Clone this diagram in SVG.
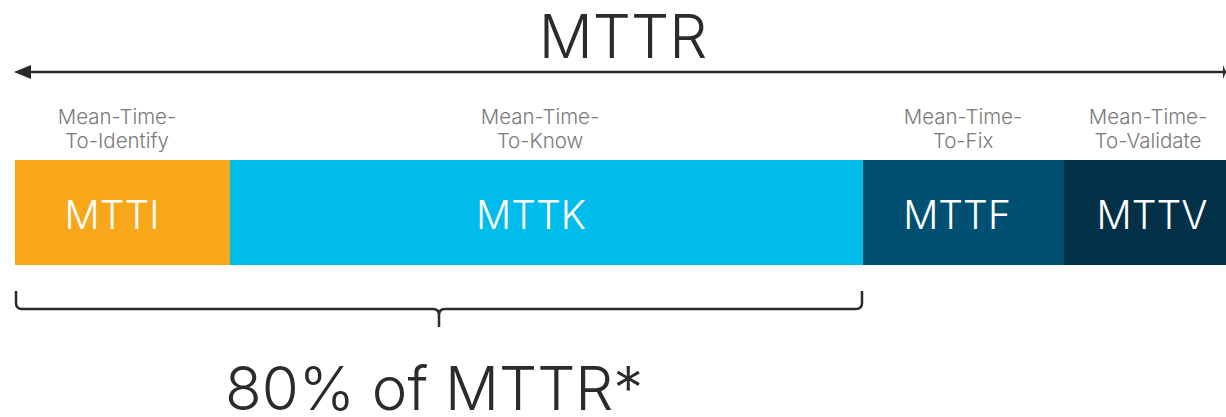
<svg xmlns="http://www.w3.org/2000/svg" width="1226" height="417" viewBox="0 0 1226 417">
  <style>
    .big { font-family: Inter, Lato, "Liberation Sans", sans-serif; font-weight: 300; fill: #2b2b2b; }
    .sub { font-family: Inter, Lato, "Liberation Sans", sans-serif; font-weight: 300; font-size: 20.5px; fill: #7a7a7a; text-anchor: middle; }
    .seg { font-family: Inter, Lato, "Liberation Sans", sans-serif; font-weight: 300; font-size: 39px; fill: #ffffff; text-anchor: middle; }
    .line { fill: none; stroke: #2b2b2b; stroke-width: 2.5; }
  </style>

  <rect width="1226" height="417" fill="#ffffff"/>

  <text class="big" x="623" y="58" font-size="60" text-anchor="middle">MTTR</text>

  <g id="connectors">
    <line class="line" x1="20" y1="72" x2="1226" y2="72"/>
    <path d="M14,72 L31,65 L31,79 Z" fill="#2b2b2b"/>
    <path d="M1226,72 L1223,65 L1223,79 Z" fill="#2b2b2b"/>
    <path class="line" d="M16,291 V303 Q16,309 22,309 H433 Q439,309 439,315 V327 M439,315 Q439,309 445,309 H856 Q862,309 862,303 V291"/>
  </g>

  <g id="mtti">
    <rect x="15" y="160" width="215" height="105" fill="#f9a71a"/>
    <text class="sub" x="117" y="124">Mean-Time-</text>
    <text class="sub" x="117" y="148">To-Identify</text>
    <text class="seg" x="112" y="229">MTTI</text>
  </g>
  <g id="mttk">
    <rect x="230" y="160" width="633" height="105" fill="#00bceb"/>
    <text class="sub" x="540" y="124">Mean-Time-</text>
    <text class="sub" x="540" y="148">To-Know</text>
    <text class="seg" x="531" y="229">MTTK</text>
  </g>
  <g id="mttf">
    <rect x="863" y="160" width="201" height="105" fill="#005073"/>
    <text class="sub" x="963" y="124">Mean-Time-</text>
    <text class="sub" x="963" y="148">To-Fix</text>
    <text class="seg" x="957" y="229">MTTF</text>
  </g>
  <g id="mttv">
    <rect x="1064" y="160" width="162" height="105" fill="#023047"/>
    <text class="sub" x="1148" y="124">Mean-Time-</text>
    <text class="sub" x="1148" y="148">To-Validate</text>
    <text class="seg" x="1152" y="229">MTTV</text>
  </g>

  <text class="big" x="225" y="410" font-size="60">80% of MTTR*</text>
</svg>
